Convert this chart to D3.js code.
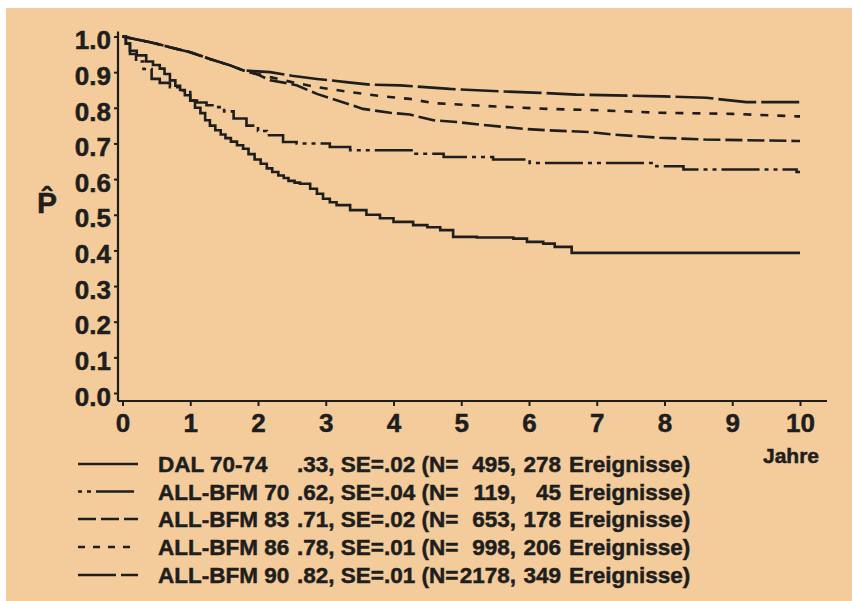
<!DOCTYPE html>
<html><head><meta charset="utf-8">
<script src="https://cdn.jsdelivr.net/npm/d3@7"></script>
<style>html,body{margin:0;padding:0;background:#fff;overflow:hidden}
text{font-family:"Liberation Sans",Arial,sans-serif;font-weight:bold;fill:#1e1e1e;stroke:#1e1e1e;stroke-width:0.5px}</style>
</head><body><svg id="c" width="852" height="601"></svg>
<script>
// ---- data ----
const xTicks = [0,1,2,3,4,5,6,7,8,9,10];
const xTickLabels = ["0","1","2","3","4","5","6","7","8","9","10"];
const yTicks = [0,0.1,0.2,0.3,0.4,0.5,0.6,0.7,0.8,0.9,1.0];
const yTickLabels = ["0.0","0.1","0.2","0.3","0.4","0.5","0.6","0.7","0.8","0.9","1.0"];

const dalT = [0,0.05,0.11,0.21,0.35,0.45,0.55,0.62,0.70,0.78,0.85,0.92,1.0,1.07,1.15,1.22,1.29,1.37,1.45,1.52,1.6,1.69,1.78,1.86,1.95,2.04,2.13,2.21,2.3,2.38,2.45,2.54,2.62,2.77,2.87,2.96,3.06,3.16,3.36,3.6,3.8,4.0,4.29,4.5,4.69,4.88,5.23,5.77,5.97,6.21,6.38,6.63,10];
const dalP = [1.0,0.98,0.96,0.947,0.93,0.92,0.91,0.895,0.877,0.862,0.85,0.835,0.82,0.80,0.785,0.765,0.75,0.737,0.725,0.715,0.705,0.695,0.685,0.67,0.655,0.643,0.63,0.62,0.61,0.603,0.595,0.59,0.587,0.573,0.559,0.545,0.535,0.527,0.513,0.50,0.49,0.48,0.471,0.465,0.457,0.438,0.436,0.433,0.424,0.419,0.41,0.393,0.393];

const bfm70T = [0,0.05,0.11,0.2,0.31,0.43,0.55,0.70,0.85,1.0,1.1,1.24,1.39,1.5,1.64,1.83,2.0,2.13,2.37,2.57,3.06,3.36,4.29,4.74,5.47,6.01,7.88,8.28,9.95,10];
const bfm70P = [1.0,0.98,0.951,0.93,0.909,0.881,0.87,0.858,0.849,0.82,0.815,0.807,0.802,0.79,0.77,0.75,0.735,0.723,0.704,0.70,0.69,0.681,0.671,0.662,0.655,0.645,0.636,0.627,0.62,0.62];

const bfm83T = [0,0.41,0.7,1.0,1.29,1.59,1.78,2.0,2.18,2.4,2.57,2.87,3.16,3.55,3.95,4.24,4.59,4.93,5.28,5.92,6.26,6.9,7.24,7.93,8.6,9.95,10];
const bfm83P = [1.0,0.984,0.97,0.956,0.937,0.919,0.905,0.893,0.877,0.87,0.863,0.839,0.821,0.797,0.786,0.781,0.765,0.76,0.753,0.741,0.737,0.732,0.725,0.716,0.711,0.707,0.707];

const bfm86T = [0,0.41,0.7,1.0,1.29,1.59,1.78,2.0,2.18,2.5,2.87,3.36,3.8,4.24,4.59,5.38,6.26,7.05,7.93,9.0,9.95,10];
const bfm86P = [1.0,0.984,0.97,0.956,0.937,0.919,0.905,0.895,0.886,0.872,0.858,0.844,0.833,0.825,0.813,0.805,0.797,0.793,0.786,0.783,0.776,0.776];

const bfm90T = [0,0.41,0.7,1.0,1.29,1.59,1.78,2.18,2.5,2.87,3.3,3.65,4.1,4.83,5.47,6.16,6.7,7.98,8.62,9.21,10];
const bfm90P = [1.0,0.984,0.97,0.956,0.937,0.919,0.905,0.9,0.89,0.881,0.872,0.865,0.863,0.853,0.847,0.842,0.837,0.832,0.828,0.816,0.816];

const legendNames  = ["DAL 70-74","ALL-BFM 70","ALL-BFM 83","ALL-BFM 86","ALL-BFM 90"];
const legendStats  = [".33, SE=.02 (N=",".62, SE=.04 (N=",".71, SE=.02 (N=",".78, SE=.01 (N=",".82, SE=.01 (N="];
const legendN      = ["495,","119,","653,","998,","2178,"];
const legendEvents = ["278","45","178","206","349"];
const legendTail   = "Ereignisse)";
const xAxisTitle = "Jahre";
const yAxisTitle = "P\u0302";

// ---- drawing ----
const svg = d3.select("#c");
const ink = "#1e1e1e";
svg.append("rect").attr("x",6).attr("y",8).attr("width",846).attr("height",593).attr("fill","#f4cc9b");

const x = d3.scaleLinear().domain([0,10]).range([122.5,800]);
const y = d3.scaleLinear().domain([0,1]).range([393,36.5]);
const axisX0 = 118, axisY0 = 401;

// axis lines
svg.append("line").attr("x1",axisX0).attr("x2",axisX0).attr("y1",y(1)-5).attr("y2",axisY0)
  .attr("stroke",ink).attr("stroke-width",2.2);
svg.append("line").attr("x1",axisX0).attr("x2",x(10)+27).attr("y1",axisY0).attr("y2",axisY0)
  .attr("stroke",ink).attr("stroke-width",2.2);

const gy = svg.append("g").attr("transform",`translate(${axisX0},0)`)
  .call(d3.axisLeft(y).tickValues(yTicks).tickFormat((d,i)=>yTickLabels[i]).tickSize(4).tickPadding(3));
gy.select(".domain").remove();
gy.selectAll(".tick line").attr("stroke",ink).attr("stroke-width",2);
gy.selectAll("text").attr("dy","0.47em").style("font-size","26px").attr("fill",ink)
  .attr("font-family",null);

const gx = svg.append("g").attr("transform",`translate(0,${axisY0})`)
  .call(d3.axisBottom(x).tickValues(xTicks).tickFormat((d,i)=>xTickLabels[i]).tickSize(5).tickPadding(8));
gx.select(".domain").remove();
gx.selectAll(".tick line").attr("stroke",ink).attr("stroke-width",2);
gx.selectAll("text").style("font-size","26px").attr("fill",ink).attr("font-family",null);

// axis titles
svg.append("text").attr("x",x(10)-9).attr("y",463).attr("text-anchor","middle")
  .style("font-size","21px").text(xAxisTitle);
svg.append("text").attr("x",47).attr("y",213).attr("text-anchor","middle")
  .style("font-size","30px").text(yAxisTitle);

// curves
const series = [
  {t:dalT,p:dalP,dash:null,curve:d3.curveStepAfter},
  {t:bfm70T,p:bfm70P,dash:"38,5,4,5,4,5",curve:d3.curveStepAfter},
  {t:bfm83T,p:bfm83P,dash:"17,5",curve:d3.curveLinear},
  {t:bfm86T,p:bfm86P,dash:"8,9",curve:d3.curveLinear},
  {t:bfm90T,p:bfm90P,dash:"38,5",curve:d3.curveLinear}
];
series.forEach(s=>{
  const pts = s.t.map((t,i)=>[t,s.p[i]]);
  const line = d3.line().x(d=>x(d[0])).y(d=>y(d[1])).curve(s.curve);
  svg.append("path").attr("d",line(pts)).attr("fill","none").attr("stroke",ink)
    .attr("stroke-width",2.6).attr("stroke-dasharray",s.dash);
});

// legend
const legDash = [null,"38,5,4,5,4,5","18,5","7,8","38,5"];
const legOff = [0,43,0,0,0];
const baselines = [472,499.5,527,555,583];
legendNames.forEach((n,i)=>{
  const b = baselines[i];
  svg.append("line").attr("x1",78).attr("x2",138).attr("y1",b-8).attr("y2",b-8)
    .attr("stroke",ink).attr("stroke-width",2.6).attr("stroke-dasharray",legDash[i])
    .attr("stroke-dashoffset",legOff[i]);
  const fs = "22.5px";
  svg.append("text").attr("x",158).attr("y",b).style("font-size",fs).text(n);
  svg.append("text").attr("x",297).attr("y",b).style("font-size",fs).text(legendStats[i]);
  svg.append("text").attr("x",516).attr("y",b).attr("text-anchor","end").style("font-size",fs).text(legendN[i]);
  svg.append("text").attr("x",561).attr("y",b).attr("text-anchor","end").style("font-size",fs).text(legendEvents[i]);
  svg.append("text").attr("x",569).attr("y",b).style("font-size",fs).text(legendTail);
});
</script></body></html>
